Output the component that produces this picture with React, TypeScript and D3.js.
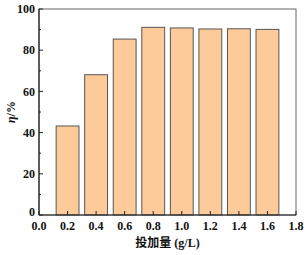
import React from 'react';
import * as d3 from 'd3';

const doses = [0.2, 0.4, 0.6, 0.8, 1.0, 1.2, 1.4, 1.6];
const removal = [43.2, 68.1, 85.4, 91.1, 90.8, 90.3, 90.4, 90.1];
const xTicks = [0, 0.2, 0.4, 0.6, 0.8, 1.0, 1.2, 1.4, 1.6, 1.8];
const yTicks = [0, 20, 40, 60, 80, 100];
const yMinor = [10, 30, 50, 70, 90];

const W = 307;
const H = 255;
const margin = { top: 9, right: 11, bottom: 40, left: 39 };

const App = () => {
  const x = d3.scaleLinear().domain([0, 1.8]).range([margin.left, W - margin.right]);
  const y = d3.scaleLinear().domain([0, 100]).range([H - margin.bottom, margin.top]);
  const barW = x(0.16) - x(0);
  const font = '"Liberation Serif", "Times New Roman", serif';

  return (
    <svg width={W} height={H} style={{ position: 'absolute', left: 0, top: 0, background: '#fff' }}>
      {doses.map((d, i) => (
        <rect
          key={d}
          x={x(d) - barW / 2}
          y={y(removal[i])}
          width={barW}
          height={y(0) - y(removal[i])}
          fill="#FDCB9A"
          stroke="#555"
          strokeWidth={1}
        />
      ))}
      {/* frame */}
      <rect
        x={x(0)}
        y={y(100)}
        width={x(1.8) - x(0)}
        height={y(0) - y(100)}
        fill="none"
        stroke="#666"
        strokeWidth={1}
      />
      {/* left and bottom axis lines */}
      <line x1={x(0)} x2={x(0)} y1={y(0)} y2={y(100)} stroke="#222" strokeWidth={1.2} />
      <line x1={x(0)} x2={x(1.8)} y1={y(0)} y2={y(0)} stroke="#222" strokeWidth={1.2} />
      {yTicks.map(t => (
        <g key={t}>
          <line x1={x(0)} x2={x(0) + 4} y1={y(t)} y2={y(t)} stroke="#222" />
          <text
            x={x(0) - 4}
            y={y(t)}
            dy={t === 0 ? '0.08em' : '0.35em'}
            textAnchor="end"
            fontFamily={font}
            fontWeight="bold"
            fontSize={12}
            fill="#111"
          >
            {t}
          </text>
        </g>
      ))}
      {yMinor.map(t => (
        <line key={t} x1={x(0)} x2={x(0) + 2} y1={y(t)} y2={y(t)} stroke="#222" />
      ))}
      {xTicks.map(t => (
        <g key={t}>
          <line x1={x(t)} x2={x(t)} y1={y(0)} y2={y(0) - 4} stroke="#222" />
          <text
            x={x(t)}
            y={y(0) + 14.5}
            textAnchor="middle"
            fontFamily={font}
            fontWeight="bold"
            fontSize={12}
            fill="#111"
          >
            {d3.format('.1f')(t)}
          </text>
        </g>
      ))}
      <text
        x={(x(0) + x(1.8)) / 2}
        y={247}
        textAnchor="middle"
        fontFamily={font}
        fontWeight="bold"
        fontSize={12}
        fill="#111"
      >
        <tspan fontFamily='"Noto Sans CJK SC", sans-serif'>投加量</tspan>
        <tspan> (g/L)</tspan>
      </text>
      <text
        transform={`translate(15, ${(y(0) + y(100)) / 2}) rotate(-90)`}
        textAnchor="middle"
        fontFamily={font}
        fontWeight="bold"
        fontSize={12}
        fill="#111"
      >
        <tspan fontStyle="italic">η</tspan>
        <tspan>/%</tspan>
      </text>
    </svg>
  );
};

export default App;
